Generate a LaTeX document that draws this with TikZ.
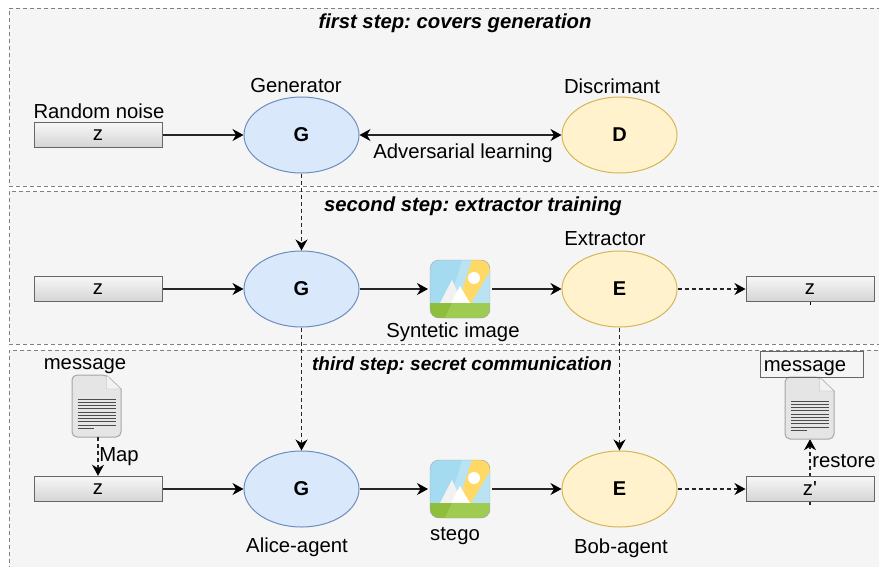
\documentclass[tikz,border=0pt]{standalone}
\usepackage{fontspec}
\setmainfont{Liberation Sans}
\newfontfamily\primefont{Liberation Sans}
\usetikzlibrary{arrows.meta,backgrounds,shapes.geometric}
\definecolor{panelfill}{HTML}{F5F5F5}
\definecolor{panelline}{HTML}{666666}
\definecolor{bluefill}{HTML}{DAE8FC}
\definecolor{blueline}{HTML}{6C8EBF}
\definecolor{yellowfill}{HTML}{FFF2CC}
\definecolor{yellowline}{HTML}{D6B656}
\definecolor{skyblue}{HTML}{A5DBF0}
\definecolor{skylight}{HTML}{B9E3F3}
\definecolor{sunband}{HTML}{FFD966}
\definecolor{grassdark}{HTML}{8FBE3C}
\definecolor{grasslight}{HTML}{A0CB52}
\frenchspacing
\tikzset{
    x=1pt, y=-1pt,
    tip/.tip={Stealth[length=11pt,width=12pt,inset=3.5pt,fill=black,color=black]},
    every node/.style={font=\fontsize{20.3}{22}\selectfont, inner sep=0pt},
    panel/.style={draw=black!50, fill=panelfill, dash pattern=on 4pt off 3pt, line width=1pt, rectangle, minimum width=900pt},
    steptitle/.style={font=\fontsize{20.3}{22}\selectfont\bfseries\itshape},
    noisebox/.style={draw=panelline, line width=1pt, top color=white!97!black, bottom color=black!17, rectangle, minimum width=128pt, minimum height=25.5pt},
    gen/.style={draw=blueline, fill=bluefill, line width=1pt, ellipse, minimum width=115pt, minimum height=76pt, font=\fontsize{20}{22}\selectfont\bfseries},
    dis/.style={draw=yellowline, fill=yellowfill, line width=1pt, ellipse, minimum width=115pt, minimum height=76pt, font=\fontsize{20}{22}\selectfont\bfseries},
    iconbox/.style={rectangle, minimum width=60pt, minimum height=58pt, outer sep=2pt},
    docbox/.style={rectangle, minimum width=49pt, minimum height=62pt},
    flow/.style={-tip, line width=1.2pt, black!85},
    dflow/.style={flow, dash pattern=on 4pt off 3pt},
    photo/.pic={
        \begin{scope}
            \clip[rounded corners=9pt] (-30,-29) rectangle (30,29);
            \fill[skyblue] (-30,-29) rectangle (30,29);
            \fill[skylight] (-15,29) -- (2,-29) -- (30,-29) -- (30,29) -- cycle;
            \fill[sunband] (-2,14) -- (12,-29) -- (30,-29) -- (30,-18) -- (11,14) -- cycle;
            \fill[white] (14,-11) circle (6pt);
            \fill[white!95!black] (-20,14) -- (-8,-9) -- (3,14) -- cycle;
            \fill[white] (-9,14) -- (0,-3) -- (10,14) -- cycle;
            \fill[grassdark] (-30,14) rectangle (30,29);
            \fill[grasslight] (-15,29) -- (-8,14) -- (30,14) -- (30,29) -- cycle;
        \end{scope}
        \draw[black!35, line width=0.4pt, rounded corners=9pt] (-30,-29) rectangle (30,29);
    },
    paper/.pic={
        \fill[black!10, draw=black!35, line width=1pt, rounded corners=5pt] (-24.5,31) -- (-24.5,-31) -- (10,-31) [sharp corners] -- (24.5,-17) [rounded corners=5pt] -- (24.5,31) -- cycle;
        \fill[black!5, draw=black!30, line width=0.4pt] (10,-31) -- (10,-17) -- (24.5,-17) -- cycle;
        \foreach \i in {0,...,8}
            \draw[black!70, line width=1pt] (-19,{-7+\i*3.25}) -- (19,{-7+\i*3.25});
        \draw[black!70, line width=1pt] (-19,22) -- (-3,22);
    },
}
\begin{document}
\begin{tikzpicture}
    \useasboundingbox (0,0) rectangle (879,566);

    % first step
    \node[gen] (g1) at (301.5,135) {G};
    \node[dis] (d1) at (619.5,135) {D};
    \node[noisebox] (z1) at (98,135) {z};
    \node at (99,111) {Random noise};
    \node at (296,86) {Generator};
    \node at (612,86) {Discrimant};
    \node at (463,153) {Adversarial learning};
    \node[steptitle] at (455,23) {first step: covers generation};

    % second step
    \node[gen] (g2) at (301.5,289) {G};
    \node[iconbox] (img2) at (460,289) {};
    \pic at (img2) {photo};
    \node[dis] (e2) at (619.5,289) {E};
    \node[noisebox] (z2) at (98,289) {z};
    \node[noisebox] (zout2) at (810,289) {z};
    \coordinate (tick2) at (810,305);
    \node at (605,239) {Extractor};
    \node at (453,332) {Syntetic image};
    \node[steptitle] at (473,206) {second step: extractor training};

    % third step
    \node[gen] (g3) at (301.5,489) {G};
    \node[iconbox] (img3) at (460,489) {};
    \pic at (img3) {photo};
    \node[dis] (e3) at (619.5,489) {E};
    \node[noisebox] (z3) at (98,489) {z};
    \node[noisebox] (zout3) at (810,489) {\primefont z'};
    \coordinate (tail3) at (810,505);
    \node[docbox] (msg3) at (96.5,406) {};
    \pic at (msg3) {paper};
    \node[docbox] (msgout3) at (809.5,408) {};
    \pic at (msgout3) {paper};
    \node[draw=panelline, line width=1pt, rectangle, minimum width=103pt, minimum height=26pt] (msgbox) at (811.5,364) {};
    \node at (805,368) {message};
    \node at (85,366) {message};
    \node at (119,457) {Map};
    \node at (844,461) {restore};
    \node at (297,547) {Alice-agent};
    \node at (455,536) {stego};
    \node at (621,548) {Bob-agent};
    \node[steptitle, font=\fontsize{19}{21}\selectfont\bfseries\itshape] at (462,366) {third step: secret communication};

    \begin{scope}[on background layer]
        \node[panel, minimum height=178pt] (p1) at (459,97) {};
        \node[panel, minimum height=153pt] (p2) at (459,267.5) {};
        \node[panel, minimum height=224pt] (p3) at (459,462) {};
        \draw[dflow] (tail3) -- (tail3 |- msgout3.south);
        \draw[black, line width=1pt] (zout2.south) -- (tick2);
    \end{scope}

    \draw[flow] (z1) -- (g1);
    \draw[flow, tip-tip] (g1) -- (d1);
    \draw[dflow] (g1) -- (g2);
    \draw[flow] (z2) -- (g2);
    \draw[flow] (g2) -- (img2);
    \draw[flow] (img2) -- (e2);
    \draw[dflow] (e2) -- (zout2);
    \draw[dflow] (g2) -- (g3);
    \draw[dflow] (e2) -- (e3);
    \draw[dflow] (msg3.south -| z3.north) -- (z3.north);
    \draw[flow] (z3) -- (g3);
    \draw[flow] (g3) -- (img3);
    \draw[flow] (img3) -- (e3);
    \draw[dflow] (e3) -- (zout3);
\end{tikzpicture}
\end{document}
